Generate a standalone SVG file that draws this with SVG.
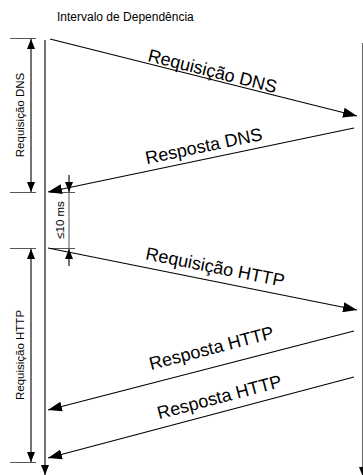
<svg xmlns="http://www.w3.org/2000/svg" width="363" height="475" viewBox="0 0 363 475">
<style>
.ln{stroke:#000;stroke-width:1.1;fill:none}
.tk{stroke:#555;stroke-width:1;fill:none}
.big{font-family:"Liberation Sans",Arial,sans-serif;font-size:18px;fill:#000;text-anchor:middle}
.sm{font-family:"Liberation Sans",Arial,sans-serif;font-size:11.5px;fill:#000;text-anchor:middle}
</style>
<defs>
<marker id="ah" markerUnits="userSpaceOnUse" markerWidth="14" markerHeight="10" viewBox="0 0 14 10" refX="14" refY="5" orient="auto">
<path d="M0,0 L14,5 L0,10 Z" fill="#000"/>
</marker>
<marker id="as" markerUnits="userSpaceOnUse" markerWidth="10" markerHeight="8" viewBox="0 0 10 8" refX="10" refY="4" orient="auto-start-reverse">
<path d="M0,0 L10,4 L0,8 Z" fill="#000"/>
</marker>
</defs>
<text x="57" y="21" font-family="Liberation Sans, Arial, sans-serif" font-size="12" fill="#000">Intervalo de Dependência</text>
<g id="timeline-client">
<line class="ln" x1="45" y1="40" x2="45" y2="475" marker-end="url(#as)"/>
</g>
<g id="timeline-server">
<line x1="363" y1="43" x2="363" y2="477" stroke="#000" stroke-width="1.2" marker-end="url(#as)"/>
</g>
<g id="dim-dns">
<line class="tk" x1="10" y1="38.5" x2="36" y2="38.5"/>
<line class="tk" x1="10" y1="192.5" x2="36" y2="192.5"/>
<line class="ln" x1="31" y1="39" x2="31" y2="192" marker-start="url(#as)" marker-end="url(#as)"/>
<text class="sm" transform="translate(24,115) rotate(-90)">Requisição DNS</text>
</g>
<g id="dim-http">
<line class="tk" x1="10" y1="248.5" x2="36" y2="248.5"/>
<line class="tk" x1="10" y1="462.5" x2="36" y2="462.5"/>
<line class="ln" x1="31" y1="249" x2="31" y2="462" marker-start="url(#as)" marker-end="url(#as)"/>
<text class="sm" transform="translate(24,355) rotate(-90)">Requisição HTTP</text>
</g>
<g id="dim-gap">
<line class="tk" x1="50" y1="192.5" x2="75" y2="192.5"/>
<line class="tk" x1="50" y1="248.5" x2="75" y2="248.5"/>
<line class="tk" x1="69" y1="192" x2="69" y2="249"/>
<line class="ln" x1="69" y1="175" x2="69" y2="192" marker-end="url(#as)"/>
<line class="ln" x1="69" y1="266" x2="69" y2="249" marker-end="url(#as)"/>
<text class="sm" transform="translate(64,220) rotate(-90)">≤10 ms</text>
</g>
<g id="connectors">
<line class="ln" x1="50" y1="39" x2="357" y2="116" marker-end="url(#ah)"/>
<line class="ln" x1="354" y1="128" x2="48" y2="192" marker-end="url(#ah)"/>
<line class="ln" x1="48" y1="248" x2="357" y2="310" marker-end="url(#ah)"/>
<line class="ln" x1="354" y1="331" x2="48" y2="410" marker-end="url(#ah)"/>
<line class="ln" x1="354" y1="377" x2="48" y2="458" marker-end="url(#ah)"/>
</g>
<g id="labels">
<text class="big" transform="translate(211,77) rotate(14.1)">Requisição DNS</text>
<text class="big" transform="translate(205,152) rotate(-11.8)">Resposta DNS</text>
<text class="big" transform="translate(214,273) rotate(11.3)">Requisição HTTP</text>
<text class="big" transform="translate(213,354) rotate(-14.5)">Resposta HTTP</text>
<text class="big" transform="translate(221,403) rotate(-14.8)">Resposta HTTP</text>
</g>
</svg>
